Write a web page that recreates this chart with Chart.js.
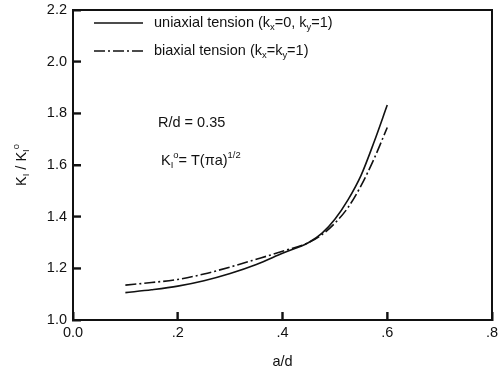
<!DOCTYPE html>
<html>
<head>
<meta charset="utf-8">
<script src="https://cdn.jsdelivr.net/npm/chart.js@4/dist/chart.umd.min.js"></script>
<style>
  html, body { margin: 0; padding: 0; background: #fff; }
  #wrap { width: 499px; height: 376px; position: relative; }
</style>
</head>
<body>
<div id="wrap"><canvas id="chart"></canvas></div>
<script>
// a/d positions
const uniaxialX = [0.1, 0.15, 0.2, 0.25, 0.3, 0.35, 0.4, 0.45, 0.475, 0.5, 0.525, 0.55, 0.575, 0.6]
const uniaxialY = [1.106, 1.117, 1.131, 1.152, 1.18, 1.215, 1.258, 1.30, 1.335, 1.39, 1.465, 1.56, 1.69, 1.832]
const biaxialX = [0.1, 0.15, 0.2, 0.25, 0.3, 0.35, 0.4, 0.45, 0.475, 0.5, 0.525, 0.55, 0.575, 0.6]
const biaxialY = [1.135, 1.145, 1.157, 1.178, 1.205, 1.235, 1.266, 1.30, 1.33, 1.375, 1.435, 1.52, 1.625, 1.745]
const xTicks = [0, 0.2, 0.4, 0.6, 0.8]
const yTicks = [1.0, 1.2, 1.4, 1.6, 1.8, 2.0, 2.2]

const ink = "#111"
const font = "Liberation Sans, Arial, sans-serif"
const dashDot = [11, 3, 2, 3]

const toPoints = (xs, ys) => xs.map((x, i) => ({ x: x, y: ys[i] }))

// draw text with sub/superscript pieces: [text, "n"|"sub"|"sup"]
function drawRich(ctx, parts, x, y, size) {
  let cx = x
  parts.forEach(([t, kind]) => {
    const s = kind === "n" ? size : size * 0.65
    const dy = kind === "sub" ? size * 0.3 : kind === "sup" ? -size * 0.4 : 0
    ctx.font = s + "px " + font
    ctx.fillText(t, cx, y + dy)
    cx += ctx.measureText(t).width
  })
  return cx - x
}

function richWidth(ctx, parts, size) {
  let w = 0
  parts.forEach(([t, kind]) => {
    ctx.font = (kind === "n" ? size : size * 0.65) + "px " + font
    w += ctx.measureText(t).width
  })
  return w
}

const labels = {
  id: "labels",
  afterDraw(chart) {
    const ctx = chart.ctx
    const a = chart.chartArea
    const sx = chart.scales.x
    const sy = chart.scales.y
    ctx.save()
    ctx.setLineDash([])
    ctx.fillStyle = ink
    ctx.strokeStyle = ink
    ctx.textBaseline = "middle"

    // whole frame
    ctx.lineWidth = 2
    ctx.beginPath()
    ctx.moveTo(a.left, a.bottom)
    ctx.lineTo(a.left, a.top)
    ctx.lineTo(a.right, a.top)
    ctx.lineTo(a.right, a.bottom)
    ctx.lineTo(a.left, a.bottom)
    ctx.stroke()

    // inward tick marks
    ctx.lineWidth = 1.8
    ctx.beginPath()
    xTicks.forEach(v => {
      const px = sx.getPixelForValue(v)
      ctx.moveTo(px, a.bottom); ctx.lineTo(px, a.bottom - 8)
    })
    yTicks.forEach(v => {
      const py = sy.getPixelForValue(v)
      ctx.moveTo(a.left, py); ctx.lineTo(a.left + 8, py)
    })
    ctx.stroke()

    // legend
    const legend = [
      { ds: chart.data.datasets[0], parts: [["uniaxial tension (k", "n"], ["x", "sub"], ["=0, k", "n"], ["y", "sub"], ["=1)", "n"]] },
      { ds: chart.data.datasets[1], parts: [["biaxial tension (k", "n"], ["x", "sub"], ["=k", "n"], ["y", "sub"], ["=1)", "n"]] }
    ]
    legend.forEach((item, i) => {
      const ly = a.top + 13 + i * 28
      ctx.lineWidth = 1.4
      ctx.setLineDash(item.ds.borderDash || [])
      ctx.beginPath(); ctx.moveTo(a.left + 21, ly); ctx.lineTo(a.left + 70, ly); ctx.stroke()
      ctx.setLineDash([])
      drawRich(ctx, item.parts, a.left + 81, ly, 14.5)
    })

    // annotations
    drawRich(ctx, [["R/d = 0.35", "n"]], a.left + 85, 123, 14.5)
    drawRich(ctx, [["K", "n"], ["I", "sub"], ["o", "sup"], ["= T(\u03c0a)", "n"], ["1/2", "sup"]], a.left + 88, 161, 14.5)

    // axis titles
    ctx.textAlign = "center"
    ctx.font = "14.5px " + font
    ctx.fillText("a/d", (a.left + a.right) / 2, 362)

    ctx.translate(22, (a.top + a.bottom) / 2)
    ctx.rotate(-Math.PI / 2)
    ctx.textAlign = "left"
    const parts = [["K", "n"], ["I", "sub"], [" / K", "n"], ["I", "sub"], ["o", "sup"]]
    drawRich(ctx, parts, -richWidth(ctx, parts, 14.5) / 2, 0, 14.5)
    ctx.restore()
  }
}

new Chart(document.getElementById("chart"), {
  type: "line",
  data: {
    datasets: [
      {
        label: "uniaxial tension",
        data: toPoints(uniaxialX, uniaxialY),
        borderColor: ink,
        borderWidth: 1.6,
        pointRadius: 0,
        cubicInterpolationMode: "monotone",
        fill: false
      },
      {
        label: "biaxial tension",
        data: toPoints(biaxialX, biaxialY),
        borderColor: ink,
        borderWidth: 1.6,
        borderDash: dashDot,
        pointRadius: 0,
        cubicInterpolationMode: "monotone",
        fill: false
      }
    ]
  },
  options: {
    responsive: true,
    maintainAspectRatio: false,
    animation: false,
    layout: { padding: { top: 10, right: 7, left: 0, bottom: 0 } },
    plugins: {
      legend: { display: false },
      tooltip: { enabled: false }
    },
    scales: {
      x: {
        type: "linear",
        min: 0,
        max: 0.8,
        afterBuildTicks: s => { s.ticks = xTicks.map(v => ({ value: v })) },
        afterFit: s => { s.height = 56; s.paddingLeft = 0; s.paddingRight = 0 },
        grid: { display: true, drawOnChartArea: false, drawTicks: true, tickLength: -8, color: ink, tickWidth: 2 },
        border: { display: true, color: ink, width: 2 },
        ticks: {
          color: ink,
          font: { family: font, size: 14.5 },
          padding: 12,
          maxRotation: 0,
          callback: v => v === 0 ? "0.0" : v.toFixed(1).replace(/^0/, "")
        }
      },
      y: {
        min: 1.0,
        max: 2.2,
        afterBuildTicks: s => { s.ticks = yTicks.map(v => ({ value: v })) },
        afterFit: s => { s.width = 73; s.paddingTop = 0; s.paddingBottom = 0 },
        grid: { display: true, drawOnChartArea: false, drawTicks: true, tickLength: -8, color: ink, tickWidth: 2 },
        border: { display: true, color: ink, width: 2 },
        ticks: {
          color: ink,
          font: { family: font, size: 14.5 },
          padding: 14,
          callback: v => v.toFixed(1)
        }
      }
    }
  },
  plugins: [labels]
})
</script>
</body>
</html>
